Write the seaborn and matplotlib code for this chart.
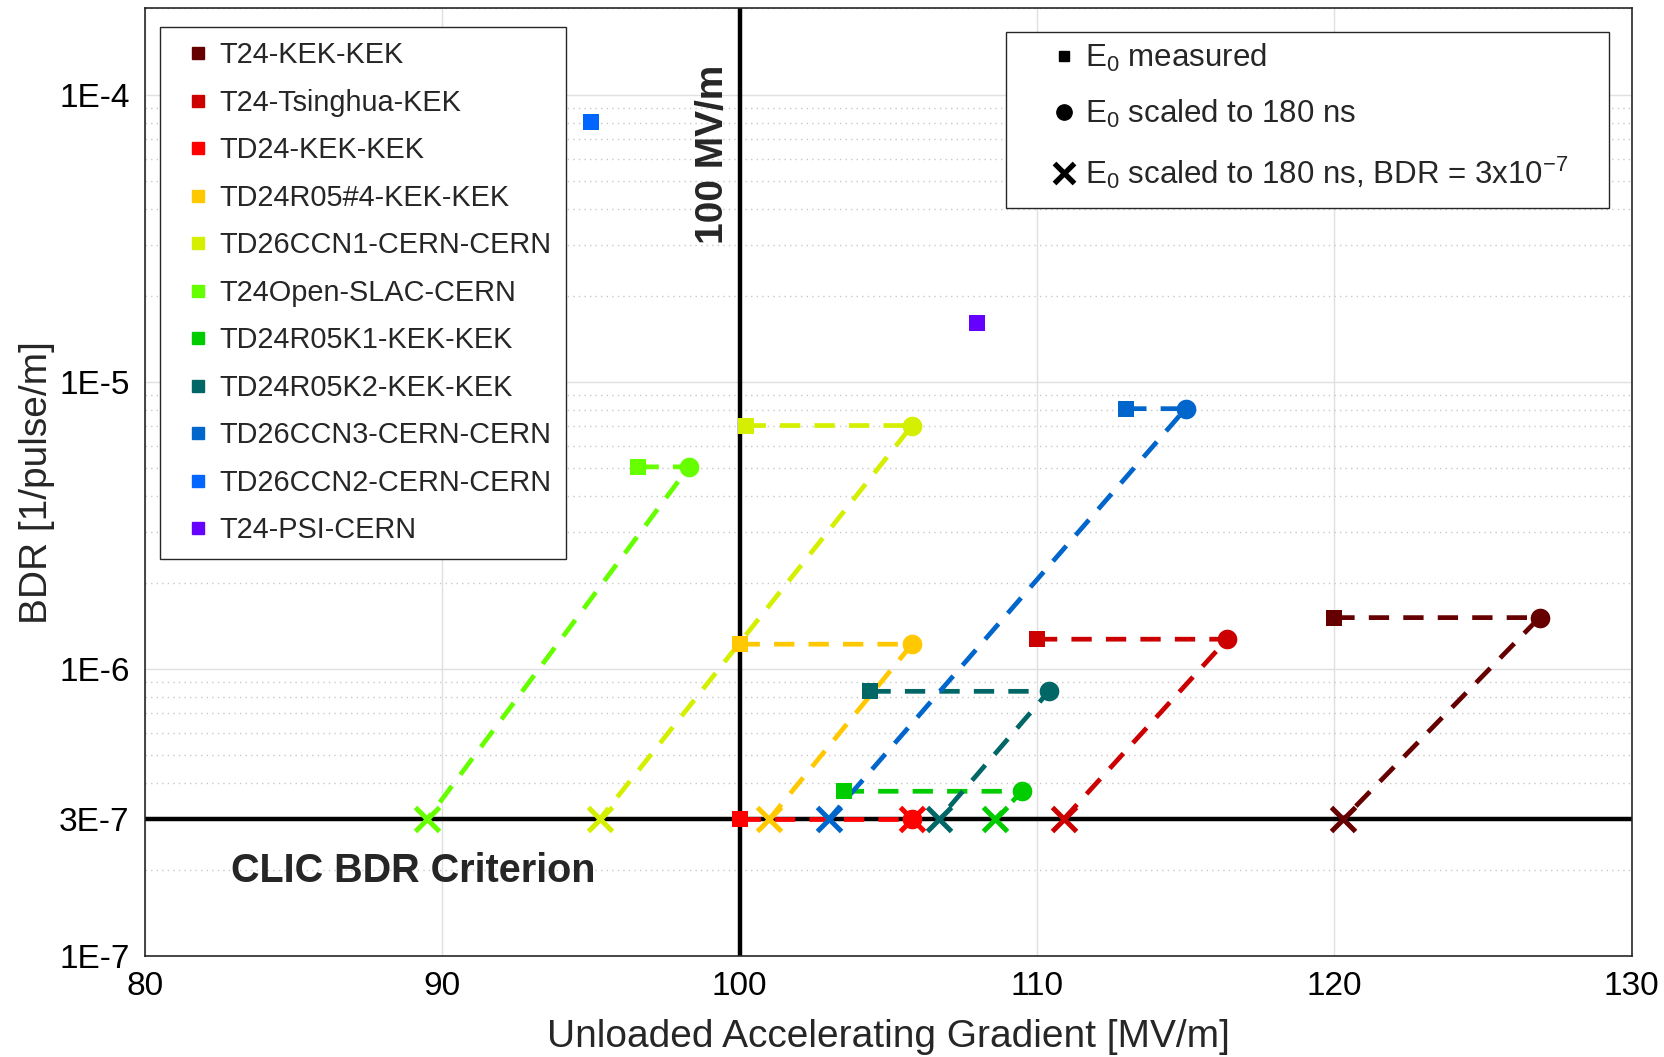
import numpy as np
import pandas as pd
import matplotlib
matplotlib.use("Agg")
import matplotlib.pyplot as plt
import seaborn as sns
from matplotlib.lines import Line2D
from matplotlib.patches import Rectangle
from matplotlib.ticker import LogLocator, NullFormatter

# ---------------- data ----------------
names = ["T24-KEK-KEK", "T24-Tsinghua-KEK", "TD24-KEK-KEK", "TD24R05#4-KEK-KEK",
         "TD26CCN1-CERN-CERN", "T24Open-SLAC-CERN", "TD24R05K1-KEK-KEK",
         "TD24R05K2-KEK-KEK", "TD26CCN3-CERN-CERN", "TD26CCN2-CERN-CERN", "T24-PSI-CERN"]
colors = ["#660000", "#CC0000", "#FF0000", "#FFC800", "#D4F000", "#66FF00",
          "#00CC00", "#006666", "#0066CC", "#0066FF", "#6600FF"]
# measured E0 and BDR
e_meas = [120.0, 110.0, 100.0, 100.0, 100.2, 96.6, 103.5, 104.4, 113.0, 95.0, 108.0]
bdr_meas = [1.51e-6, 1.27e-6, 3.0e-7, 1.22e-6, 7.05e-6, 5.06e-6, 3.75e-7, 8.36e-7, 8.07e-6, 8.07e-5, 1.61e-5]
# E0 scaled to 180 ns (same BDR); None = not available
e_scaled = [126.9, 116.4, 105.8, 105.8, 105.8, 98.3, 109.5, 110.4, 115.0, None, None]
# E0 scaled to 180 ns at BDR = 3e-7
e_crit = [120.3, 110.9, 105.8, 101.0, 95.3, 89.5, 108.6, 106.7, 103.0, None, None]
bdr_crit = 3e-7

yticks = [1e-7, 3e-7, 1e-6, 1e-5, 1e-4]
ytick_labels = ["1E-7", "3E-7", "1E-6", "1E-5", "1E-4"]
xticks = [80, 90, 100, 110, 120, 130]

# ---------------- style ----------------
sns.set_style("white")
plt.rcParams["font.family"] = ["Liberation Sans", "DejaVu Sans"]
plt.rcParams["mathtext.fontset"] = "custom"
plt.rcParams["mathtext.rm"] = "Liberation Sans"
plt.rcParams["mathtext.it"] = "Liberation Sans:italic"
plt.rcParams["mathtext.bf"] = "Liberation Sans:bold"

fig = plt.figure(figsize=(16.65, 10.57), dpi=100)
ax = fig.add_axes([0.087, 0.0955, 0.893, 0.8965])
ax.set_yscale("log")
ax.set_xlim(80, 130)
ax.set_ylim(1e-7, 2e-4)

# grid
ax.grid(True, which="major", axis="both", color="#e0e0e0", lw=1.0, ls="-")
ax.yaxis.set_minor_locator(LogLocator(base=10, subs=np.arange(2, 10), numticks=20))
ax.yaxis.set_minor_formatter(NullFormatter())
ax.grid(True, which="minor", axis="y", color="#c8c8c8", lw=1.0, ls=(0, (1, 3)))
ax.set_axisbelow(True)

# reference lines
ax.axvline(100, color="black", lw=3.2, zorder=2)
ax.axhline(bdr_crit, color="black", lw=3.2, zorder=2)

# series
for i, name in enumerate(names):
    c = colors[i]
    if e_scaled[i] is not None:
        path = pd.DataFrame({"x": [e_meas[i], e_scaled[i], e_crit[i]],
                             "y": [bdr_meas[i], bdr_meas[i], bdr_crit]})
        ax.plot(path["x"], path["y"], color=c, lw=3.4, ls=(0, (4.3, 3.0)), zorder=3)
        sns.scatterplot(x=[e_scaled[i]], y=[bdr_meas[i]], marker="o", s=200, color=c,
                        edgecolor=c, linewidth=0, ax=ax, zorder=4, legend=False)
        sns.scatterplot(x=[e_crit[i]], y=[bdr_crit], marker="x", s=300, color=c,
                        linewidth=3.6, ax=ax, zorder=4, legend=False)
    sns.scatterplot(x=[e_meas[i]], y=[bdr_meas[i]], marker="s", s=130, color=c,
                    edgecolor=c, linewidth=0, ax=ax, zorder=5, legend=False)

# ticks
ax.set_xticks(xticks)
ax.set_xticklabels([str(t) for t in xticks])
ax.set_yticks(yticks)
ax.set_yticklabels(ytick_labels)
ax.tick_params(axis="both", which="major", labelsize=24, direction="in", length=6, width=1,
               colors="black", pad=11)
ax.tick_params(axis="y", which="minor", direction="in", length=3, width=0.8)
for sp in ax.spines.values():
    sp.set_color("#262626")
    sp.set_linewidth(1.2)

ax.set_xlabel("Unloaded Accelerating Gradient [MV/m]", fontsize=28, color="#262626", labelpad=12)
ax.set_ylabel("BDR [1/pulse/m]", fontsize=28, color="#262626", labelpad=3)

# annotations
ax.text(99.1, 6.2e-5, "100 MV/m", rotation=90, fontsize=28, fontweight="bold",
        ha="center", va="center", zorder=6)
ax.text(82.9, 1.98e-7, "CLIC BDR Criterion", fontsize=28.5, fontweight="bold",
        ha="left", va="center", zorder=6)

# legend 1: devices
h1 = [Line2D([], [], marker="s", ls="none", color=c, markersize=9) for c in colors]
leg1 = fig.legend(h1, names, loc="upper left", bbox_to_anchor=(0.0961, 0.9745),
                  fontsize=20.8, frameon=True, fancybox=False, edgecolor="#262626",
                  framealpha=1, labelspacing=0.675, handletextpad=-0.05, handlelength=1.6,
                  borderpad=0.5, borderaxespad=0)
leg1.get_frame().set_linewidth(1.0)

# legend 2: marker meaning (frame drawn as a separate box)
fig.add_artist(Rectangle((0.604, 0.8031), 0.3623, 0.1667, transform=fig.transFigure,
                         facecolor="white", edgecolor="#262626", lw=1.0, zorder=9))
h2 = [Line2D([], [], marker="s", ls="none", color="black", markersize=7),
      Line2D([], [], marker="o", ls="none", color="black", markersize=11),
      Line2D([], [], marker="x", ls="none", color="black", markersize=15, markeredgewidth=3.8)]
l2 = ["E$_0$ measured", "E$_0$ scaled to 180 ns", "E$_0$ scaled to 180 ns, BDR = 3x10$^{-7}$"]
leg2 = fig.legend(h2, l2, loc="upper left", bbox_to_anchor=(0.6222, 0.9725),
                  fontsize=22.5, frameon=False, labelspacing=0.78, handletextpad=0.18,
                  handlelength=1.0, borderpad=0.4, borderaxespad=0)
leg2.set_zorder(10)

fig.savefig("out.png", dpi=100)
